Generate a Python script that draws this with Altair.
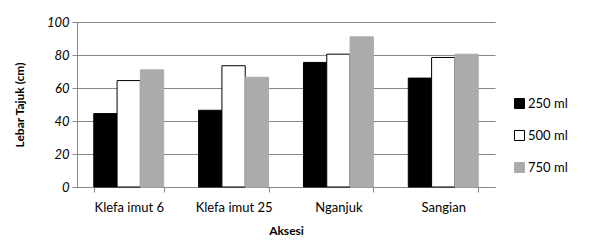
import altair as alt
import pandas as pd

categories = ["Klefa imut 6", "Klefa imut 25", "Nganjuk", "Sangian"]
series = ["250 ml", "500 ml", "750 ml"]
v250 = [44.5, 46.5, 75.5, 66]
v500 = [64.5, 73.5, 80.5, 78.5]
v750 = [71, 66.5, 91, 80.5]

rows = []
for i, c in enumerate(categories):
    for s, vals in zip(series, [v250, v500, v750]):
        rows.append({"Aksesi": c, "Dosis": s, "Lebar": vals[i]})
df = pd.DataFrame(rows)

FONT = "Lato"
fill_scale = alt.Scale(domain=series, range=["#000000", "#ffffff", "#ababab"])
stroke_scale = alt.Scale(domain=series, range=["#000000", "#000000", "#ababab"])

chart = alt.Chart(df).mark_bar(strokeWidth=1).encode(
    x=alt.X("Aksesi:N", sort=categories, title="Aksesi",
            scale=alt.Scale(paddingInner=0.333, paddingOuter=0.16),
            axis=alt.Axis(labelAngle=0, tickBand="extent", labelFontSize=13,
                          labelFont=FONT, labelColor="#000", labelPadding=9,
                          titleFont=FONT, titleFontSize=12, titleFontWeight="bold",
                          titleColor="#000", titlePadding=11,
                          domainColor="#888", tickColor="#888", tickSize=5)),
    xOffset=alt.XOffset("Dosis:N", sort=series),
    y=alt.Y("Lebar:Q", title="Lebar Tajuk (cm)",
            scale=alt.Scale(domain=[0, 100]),
            axis=alt.Axis(values=[0, 20, 40, 60, 80, 100], labelFontSize=13,
                          labelFont=FONT, labelFontStyle="italic", labelColor="#000",
                          labelPadding=3, titleFont=FONT, titleFontSize=12,
                          titleFontWeight="bold", titleColor="#000", titlePadding=20,
                          domainColor="#888", tickColor="#888", tickSize=5,
                          gridColor="#888")),
    fill=alt.Fill("Dosis:N", sort=series, scale=fill_scale,
                  legend=alt.Legend(title=None, orient="none", legendX=436, legendY=75,
                                    symbolType="square", symbolSize=100, symbolStrokeWidth=1,
                                    labelFont=FONT, labelFontSize=13, labelColor="#000",
                                    rowPadding=17, labelOffset=2)),
    stroke=alt.Stroke("Dosis:N", sort=series, scale=stroke_scale),
).properties(
    width=418, height=165,
    autosize=alt.AutoSizeParams(type="none"),
    padding={"left": 69, "top": 14, "right": 80, "bottom": 60},
).configure_view(stroke=None).configure_axisX(grid=False)

chart.save("out.html", embed_options={"renderer": "svg", "actions": False})
